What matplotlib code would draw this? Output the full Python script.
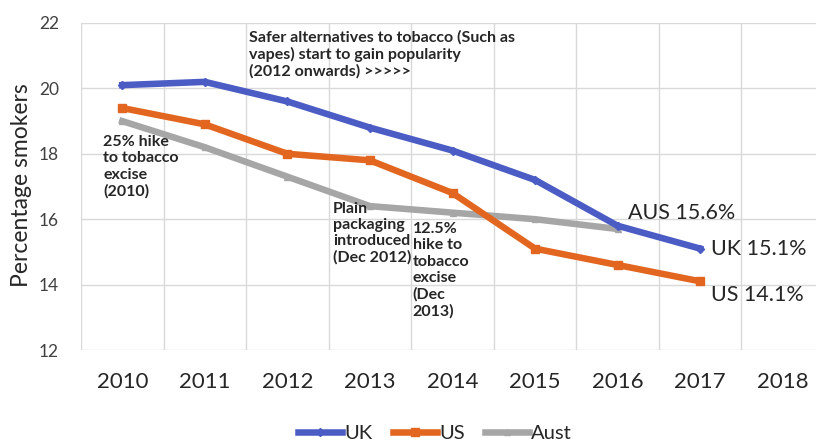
import numpy as np
import matplotlib.pyplot as plt

plt.rcParams['font.family'] = ['Lato', 'DejaVu Sans']

# data
years = ['2010', '2011', '2012', '2013', '2014', '2015', '2016', '2017', '2018']
uk = [20.1, 20.2, 19.6, 18.8, 18.1, 17.2, 15.8, 15.1]
us = [19.4, 18.9, 18.0, 17.8, 16.8, 15.1, 14.6, 14.1]
aust = [19.0, 18.2, 17.3, 16.4, 16.2, 16.0, 15.7]

blue = '#4b5cc4'
orange = '#e2661f'
grey = '#a6a6a6'

fig = plt.figure(figsize=(8.16, 4.41), dpi=100)
ax = fig.add_axes([81/816, 91/441, 743/816, 327/441])

x = np.arange(len(years))
ax.plot(x[:len(uk)], uk, color=blue, lw=4.7, marker='D', ms=4, label='UK', zorder=3)
ax.plot(x[:len(us)], us, color=orange, lw=4.7, marker='s', ms=5.5, label='US', zorder=3)
ax.plot(x[:len(aust)], aust, color=grey, lw=4.7, marker='^', ms=5, label='Aust', zorder=2)

ax.set_xlim(-0.5, len(years) - 0.5)
ax.set_ylim(12, 22)
ax.set_yticks(range(12, 23, 2))
ax.set_xticks(x)
ax.set_xticklabels(years, fontsize=16, color='#262626')
ax.set_xticks(np.arange(-0.5, len(years)), minor=True)
ax.tick_params(axis='x', which='both', length=0, pad=16)
ax.tick_params(axis='y', length=0, pad=16, labelsize=12.5, labelcolor='#404040')
ax.grid(axis='y', color='#d9d9d9', lw=1)
ax.grid(axis='x', which='minor', color='#d9d9d9', lw=1)
ax.grid(axis='x', which='major', visible=False)
for s in ax.spines.values():
    s.set_visible(False)

ax.set_ylabel('Percentage smokers', fontsize=16.5, color='#262626')
ax.yaxis.set_label_coords(-0.066, 0.505)

# annotations
ann = dict(fontsize=11.5, fontweight='bold', color='#262626', linespacing=1.2,
           va='top', ha='left')
ax.text(1.53, 21.79, 'Safer alternatives to tobacco (Such as\nvapes) start to gain popularity\n(2012 onwards) >>>>>', **ann)
ax.text(-0.23, 18.57, '25% hike\nto tobacco\nexcise\n(2010)', **ann)
ax.text(2.55, 16.53, 'Plain\npackaging\nintroduced\n(Dec 2012)', **ann)
ax.text(3.52, 15.91, '12.5%\nhike to\ntobacco\nexcise\n(Dec\n2013)', **ann)

end = dict(fontsize=15.5, color='#262626', va='center', ha='left')
ax.text(6.13, 16.2, 'AUS 15.6%', **end)
ax.text(7.13, 15.1, 'UK 15.1%', **end)
ax.text(7.13, 13.68, 'US 14.1%', **end)

fig.legend(loc='center', bbox_to_anchor=(435/816, 1 - 433/441), ncol=3,
           frameon=False, fontsize=14.5, handlelength=2.2, handletextpad=0.1,
           columnspacing=1.0, labelcolor='#262626')

fig.savefig('out.png', dpi=100)
